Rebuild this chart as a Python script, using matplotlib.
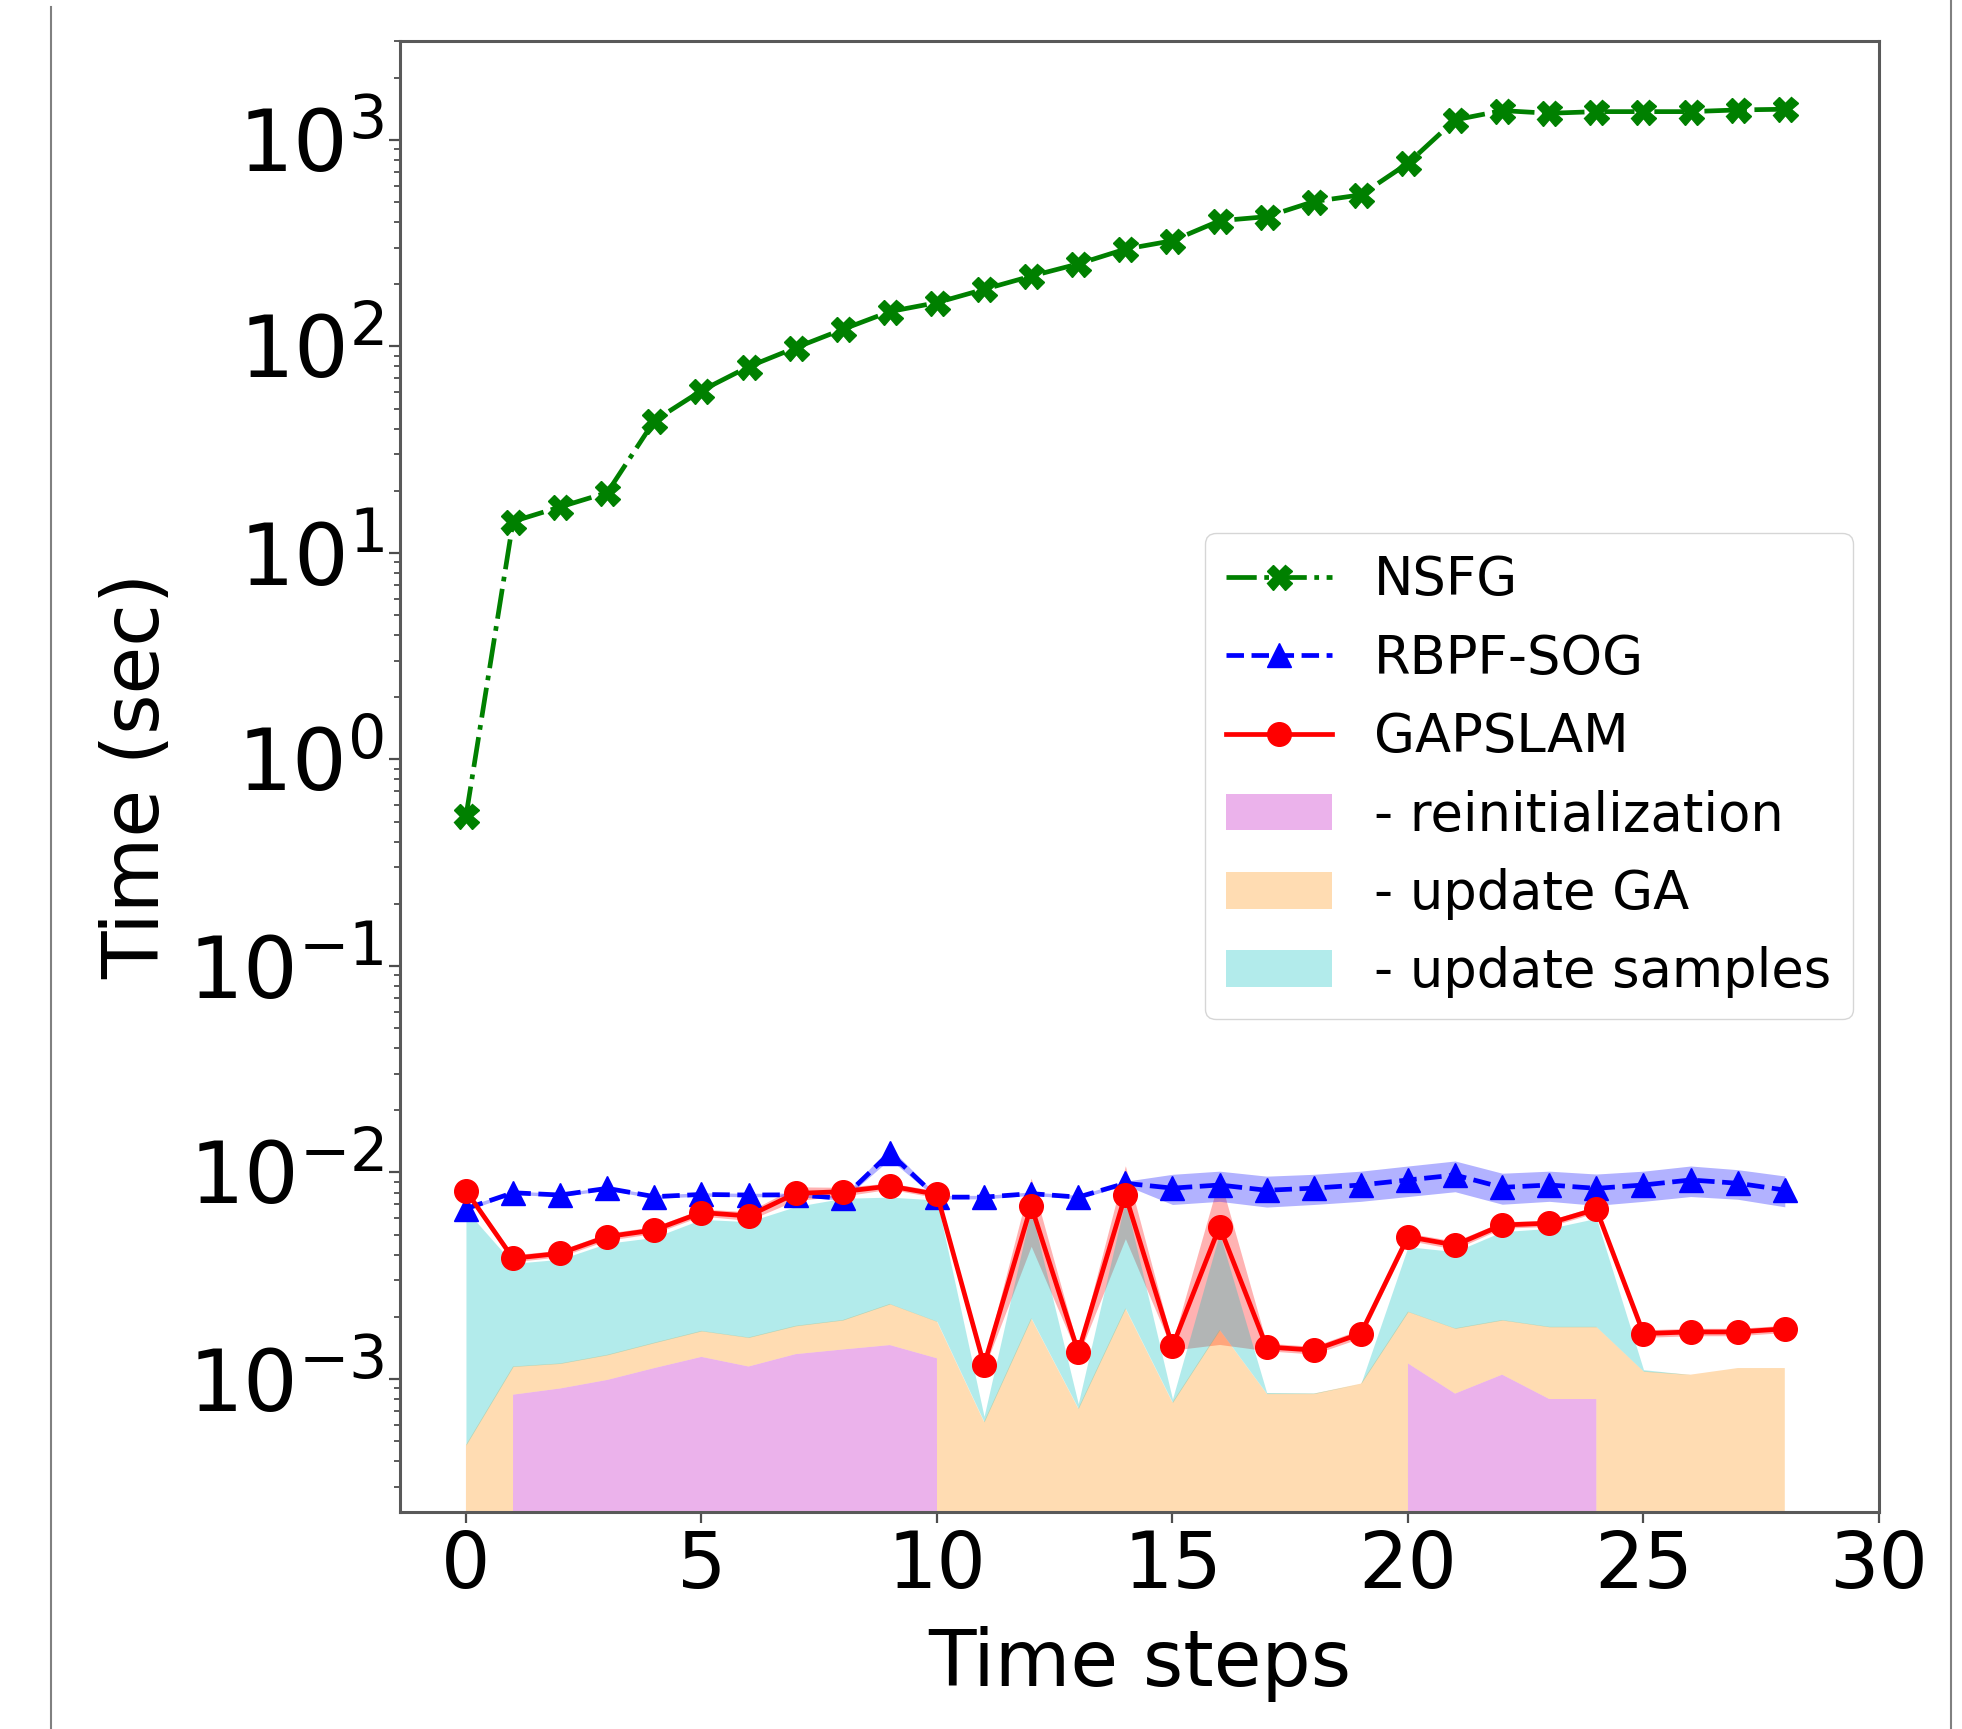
import matplotlib
matplotlib.use("Agg")
import matplotlib.pyplot as plt
import numpy as np
from matplotlib.lines import Line2D
from matplotlib.patches import Patch
from matplotlib.ticker import LogLocator, NullFormatter

# ---------------- data ----------------
steps = np.arange(29)

nsfg = np.array([0.53, 14.2, 16.7, 19.6, 43.7, 61.1, 79.8, 98.6, 121, 147.5,
                 163, 189, 219, 251, 296, 325, 406, 425, 503, 542,
                 771, 1250, 1387, 1346, 1371, 1371, 1371, 1397, 1408])

rbpf = np.array([6.68e-3, 7.98e-3, 7.78e-3, 8.38e-3, 7.64e-3, 7.83e-3, 7.78e-3, 7.80e-3, 7.50e-3, 12.4e-3,
                 7.60e-3, 7.60e-3, 7.90e-3, 7.60e-3, 8.87e-3, 8.40e-3, 8.70e-3, 8.20e-3, 8.40e-3, 8.70e-3,
                 9.20e-3, 9.72e-3, 8.47e-3, 8.70e-3, 8.38e-3, 8.70e-3, 9.20e-3, 8.87e-3, 8.22e-3])
rbpf_std = np.array([0.15e-3, 0.15e-3, 0.15e-3, 0.15e-3, 0.15e-3, 0.15e-3, 0.15e-3, 0.15e-3, 0.15e-3, 0.8e-3,
                     0.15e-3, 0.15e-3, 0.15e-3, 0.15e-3, 0.2e-3, 1.4e-3, 1.45e-3, 1.4e-3, 1.4e-3, 1.45e-3,
                     1.55e-3, 1.65e-3, 1.45e-3, 1.45e-3, 1.45e-3, 1.45e-3, 1.55e-3, 1.45e-3, 1.4e-3])

gapslam = np.array([8.17e-3, 3.84e-3, 4.06e-3, 4.89e-3, 5.27e-3, 6.40e-3, 6.16e-3, 7.92e-3, 8.08e-3, 8.60e-3,
                    7.84e-3, 1.17e-3, 6.89e-3, 1.35e-3, 7.78e-3, 1.44e-3, 5.47e-3, 1.43e-3, 1.38e-3, 1.66e-3,
                    4.89e-3, 4.45e-3, 5.57e-3, 5.68e-3, 6.64e-3, 1.66e-3, 1.69e-3, 1.69e-3, 1.75e-3])
gapslam_std = np.array([0.3e-3, 0.15e-3, 0.15e-3, 0.2e-3, 0.2e-3, 0.25e-3, 0.3e-3, 0.6e-3, 0.4e-3, 0.3e-3,
                        0.3e-3, 0.05e-3, 2.5e-3, 0.06e-3, 3.0e-3, 0.06e-3, 4.0e-3, 0.06e-3, 0.06e-3, 0.08e-3,
                        0.2e-3, 0.2e-3, 0.2e-3, 0.2e-3, 0.25e-3, 0.07e-3, 0.07e-3, 0.07e-3, 0.07e-3])

# GAPSLAM time breakdown (stacked)
reinit = np.array([0, 0.84e-3, 0.90e-3, 0.99e-3, 1.13e-3, 1.28e-3, 1.15e-3, 1.32e-3, 1.39e-3, 1.46e-3,
                   1.26e-3, 0, 0, 0, 0, 0, 0, 0, 0, 0,
                   1.19e-3, 0.85e-3, 1.05e-3, 0.80e-3, 0.80e-3, 0, 0, 0, 0])
update_ga = np.array([0.479e-3, 0.31e-3, 0.29e-3, 0.32e-3, 0.37e-3, 0.43e-3, 0.44e-3, 0.49e-3, 0.54e-3, 0.85e-3,
                      0.64e-3, 0.62e-3, 1.97e-3, 0.72e-3, 2.20e-3, 0.77e-3, 1.73e-3, 0.85e-3, 0.85e-3, 0.95e-3,
                      0.93e-3, 0.91e-3, 0.88e-3, 0.99e-3, 0.99e-3, 1.09e-3, 1.05e-3, 1.13e-3, 1.13e-3])
update_samples = np.array([6.1e-3, 2.48e-3, 2.61e-3, 3.23e-3, 3.35e-3, 4.22e-3, 4.19e-3, 5.03e-3, 5.57e-3, 5.29e-3,
                           5.46e-3, 0.04e-3, 4.63e-3, 0.04e-3, 5.15e-3, 0.03e-3, 3.34e-3, 0.01e-3, 0.005e-3, 0.0,
                           2.25e-3, 2.38e-3, 3.24e-3, 3.57e-3, 4.21e-3, 0.02e-3, 0, 0, 0])

xticks = [0, 5, 10, 15, 20, 25, 30]
yticks = [1e-3, 1e-2, 1e-1, 1e0, 1e1, 1e2, 1e3]

# ---------------- figure ----------------
W, H = 1962, 1729
fig = plt.figure(figsize=(W / 100, H / 100), dpi=100)
ax = fig.add_axes([400 / W, 1 - 1512 / H, 1479 / W, (1512 - 40.5) / H])
ax.set_yscale("log")

# std bands
ax.fill_between(steps, gapslam - gapslam_std, gapslam + gapslam_std, color="red", alpha=0.3, lw=0, zorder=1)
ax.fill_between(steps, rbpf - rbpf_std, rbpf + rbpf_std, color="blue", alpha=0.3, lw=0, zorder=1)

# stacked breakdown
c1 = reinit
c2 = reinit + update_ga
c3 = c2 + update_samples
ax.fill_between(steps, 0, c1, color="m", alpha=0.3, lw=0, zorder=1.2)
ax.fill_between(steps, c1, c2, color="darkorange", alpha=0.3, lw=0, zorder=1.2)
ax.fill_between(steps, c2, c3, color="c", alpha=0.3, lw=0, zorder=1.2)

# lines
l1, = ax.plot(steps, nsfg, color="green", ls="-.", marker="X", ms=18, lw=3.4, zorder=3)
l2, = ax.plot(steps, rbpf, color="blue", ls="--", marker="^", ms=17, lw=3.4, zorder=3)
l3, = ax.plot(steps, gapslam, color="red", ls="-", marker="o", ms=17, lw=3.4, zorder=3)

ax.set_xlim(-1.4, 30)
ax.set_ylim(2.27e-4, 3030)
ax.set_xticks(xticks)
ax.set_yticks(yticks)
ax.yaxis.set_minor_locator(LogLocator(base=10, subs=np.arange(2, 10), numticks=100))
ax.yaxis.set_minor_formatter(NullFormatter())

ax.tick_params(axis="both", which="major", length=8, width=1.6, color="0.3")
ax.tick_params(axis="x", which="major", labelsize=56)
ax.tick_params(axis="y", which="major", labelsize=62)
ax.tick_params(axis="y", which="minor", length=4, width=1.3, color="0.3")
for s in ax.spines.values():
    s.set_color("0.35")
    s.set_linewidth(2.2)

ax.set_xlabel("Time steps", fontsize=56, labelpad=16)
ax.set_ylabel("Time (sec)", fontsize=56, labelpad=9)

handles = [l1, l2, l3,
           Patch(facecolor="m", alpha=0.3, lw=0),
           Patch(facecolor="darkorange", alpha=0.3, lw=0),
           Patch(facecolor="c", alpha=0.3, lw=0)]
labels = ["NSFG", "RBPF-SOG", "GAPSLAM", "- reinitialization", "- update GA", "- update samples"]
ax.legend(handles, labels, loc="center right", fontsize=38)

# page border lines of the screenshot
fig.add_artist(Line2D([51 / W, 51 / W], [0, 1 - 7 / H], transform=fig.transFigure, color="0.5", lw=1.5))
fig.add_artist(Line2D([1951 / W, 1951 / W], [0, 1], transform=fig.transFigure, color="0.5", lw=1.5))

fig.savefig("out.png", dpi=100)
